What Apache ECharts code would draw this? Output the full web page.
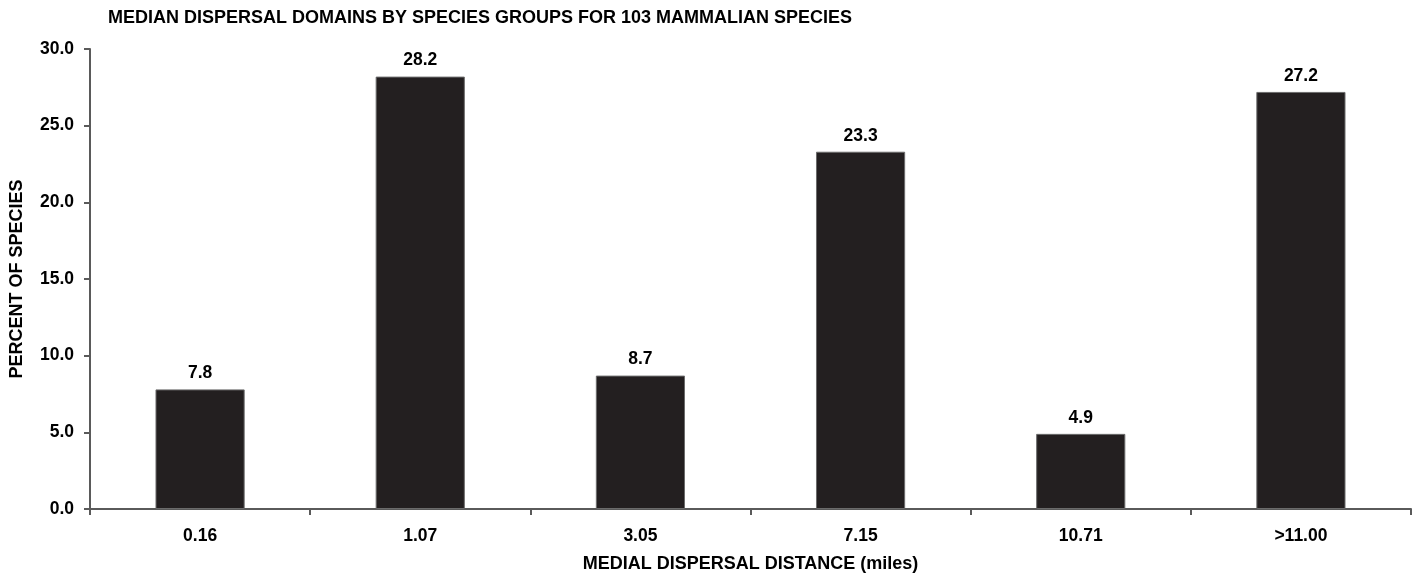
<!DOCTYPE html>
<html>
<head>
<meta charset="utf-8">
<script src="https://cdn.jsdelivr.net/npm/echarts@6/dist/echarts.min.js"></script>
<style>
html,body{margin:0;padding:0;background:#fff;}
#c{width:1421px;height:578px;}
</style>
</head>
<body>
<div id="c"></div>
<script>
const titleText = 'MEDIAN DISPERSAL DOMAINS BY SPECIES GROUPS FOR 103 MAMMALIAN SPECIES';
const categories = ['0.16', '1.07', '3.05', '7.15', '10.71', '>11.00'];
const percentValues = [7.8, 28.2, 8.7, 23.3, 4.9, 27.2];
const xAxisTitle = 'MEDIAL DISPERSAL DISTANCE (miles)';
const yAxisTitle = 'PERCENT OF SPECIES';

const font = '"Liberation Sans", Arial, Helvetica, sans-serif';
const chart = echarts.init(document.getElementById('c'), null, {renderer: 'canvas'});
chart.setOption({
  animation: false,
  backgroundColor: '#ffffff',
  title: {
    text: titleText,
    left: 103,
    top: 4,
    textStyle: {fontFamily: font, fontWeight: 'bold', fontSize: 18, color: '#000'}
  },
  grid: {left: 89, right: 10, top: 49, bottom: 64, containLabel: false},
  xAxis: {
    type: 'category',
    data: categories,
    name: xAxisTitle,
    nameLocation: 'middle',
    nameGap: 46,
    nameTextStyle: {fontFamily: font, fontWeight: 'bold', fontSize: 18, color: '#000'},
    axisLine: {lineStyle: {color: '#5a5a5a', width: 2}},
    axisTick: {show: true, alignWithLabel: false, length: 6, lineStyle: {color: '#5a5a5a', width: 2}},
    axisLabel: {fontFamily: font, fontWeight: 'bold', fontSize: 17.5, color: '#000', margin: 18}
  },
  yAxis: {
    type: 'value',
    min: 0,
    max: 30,
    interval: 5,
    name: yAxisTitle,
    nameLocation: 'middle',
    nameGap: 64,
    nameTextStyle: {fontFamily: font, fontWeight: 'bold', fontSize: 18, color: '#000'},
    axisLine: {show: true, lineStyle: {color: '#5a5a5a', width: 2}},
    axisTick: {show: true, length: 6, lineStyle: {color: '#5a5a5a', width: 2}},
    splitLine: {show: false},
    axisLabel: {
      fontFamily: font, fontWeight: 'bold', fontSize: 17.5, color: '#000', margin: 16,
      formatter: v => v.toFixed(1)
    }
  },
  series: [{
    type: 'bar',
    data: percentValues,
    barWidth: '40.5%',
    itemStyle: {color: '#231f20', borderColor: '#6b6b6b', borderWidth: 1},
    label: {
      show: true,
      position: 'top',
      distance: 7,
      fontFamily: font, fontWeight: 'bold', fontSize: 17.5, color: '#000',
      formatter: p => p.value.toFixed(1)
    }
  }]
});
</script>
</body>
</html>
